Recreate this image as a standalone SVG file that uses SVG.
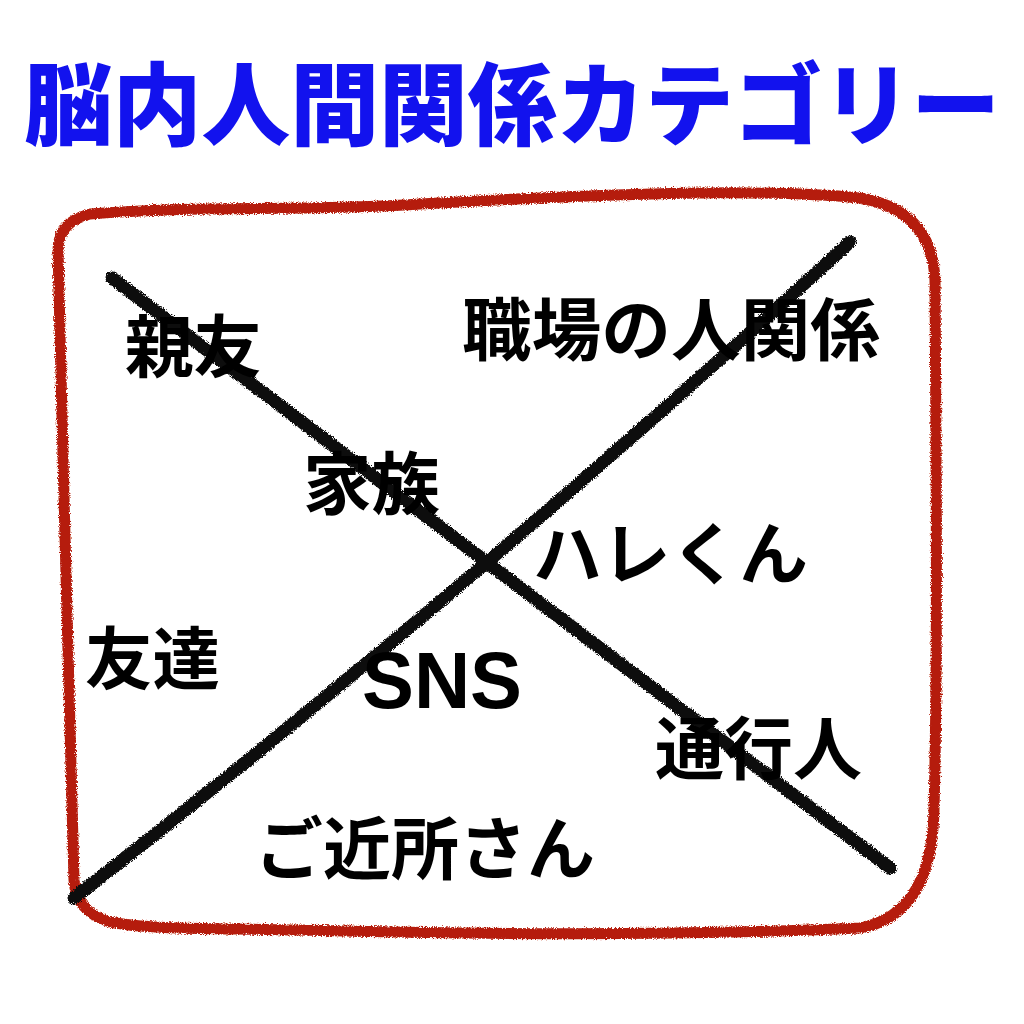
<svg xmlns="http://www.w3.org/2000/svg" width="1024" height="1024" viewBox="0 0 1024 1024">
<defs>
<filter id="crayon" x="-5%" y="-5%" width="110%" height="110%">
<feTurbulence type="fractalNoise" baseFrequency="0.9" numOctaves="2" seed="3" result="n"/>
<feDisplacementMap in="SourceGraphic" in2="n" scale="5" xChannelSelector="R" yChannelSelector="G"/>
</filter>
</defs>
<style>
.title{font-family:"Noto Sans CJK JP",sans-serif;font-weight:900;fill:#1212ee;font-size:90px}
.lbl{font-family:"Noto Sans CJK JP",sans-serif;font-weight:700;fill:#000;font-size:68px}
.sns{font-family:"Liberation Sans",Arial,sans-serif;font-weight:700;fill:#000;font-size:80px}
.frame{fill:none;stroke:#b51e0c;stroke-width:11;stroke-linecap:round;stroke-linejoin:round}
.cross{fill:none;stroke:#111;stroke-width:13;stroke-linecap:round}
</style>
<rect width="1024" height="1024" fill="#fff"/>
<g id="title"><text class="title" x="24" y="138" textLength="976" lengthAdjust="spacingAndGlyphs">脳内人間関係カテゴリー</text></g>
<g id="frame" filter="url(#crayon)">
<path class="frame" d="M58,250 Q58,222 90,214 C200,205 300,212 420,204 C600,194 760,188 860,198 Q932,210 935,280 C936,450 938,650 934,810 Q932,915 860,928 C700,935 500,935 300,930 C220,928 150,930 110,922 Q76,912 74,880 C70,700 62,450 58,250 Z"/>
</g>
<g id="connectors" filter="url(#crayon)">
<path class="cross" d="M112,278 L890,868"/>
<path class="cross" d="M74,898 Q470,590 850,242"/>
</g>
<g id="n1"><text class="lbl" x="125" y="372" textLength="137" lengthAdjust="spacingAndGlyphs">親友</text></g>
<g id="n2"><text class="lbl" x="462" y="355" textLength="418" lengthAdjust="spacingAndGlyphs">職場の人関係</text></g>
<g id="n3"><text class="lbl" x="303" y="509" textLength="137" lengthAdjust="spacingAndGlyphs">家族</text></g>
<g id="n4"><text class="lbl" x="533" y="579" textLength="275" lengthAdjust="spacingAndGlyphs">ハレくん</text></g>
<g id="n5"><text class="lbl" x="85" y="684" textLength="135" lengthAdjust="spacingAndGlyphs">友達</text></g>
<g id="n6"><text class="sns" x="362" y="708" textLength="160" lengthAdjust="spacingAndGlyphs">SNS</text></g>
<g id="n7"><text class="lbl" x="655" y="774" textLength="207" lengthAdjust="spacingAndGlyphs">通行人</text></g>
<g id="n8"><text class="lbl" x="255" y="874" textLength="340" lengthAdjust="spacingAndGlyphs">ご近所さん</text></g>
</svg>
